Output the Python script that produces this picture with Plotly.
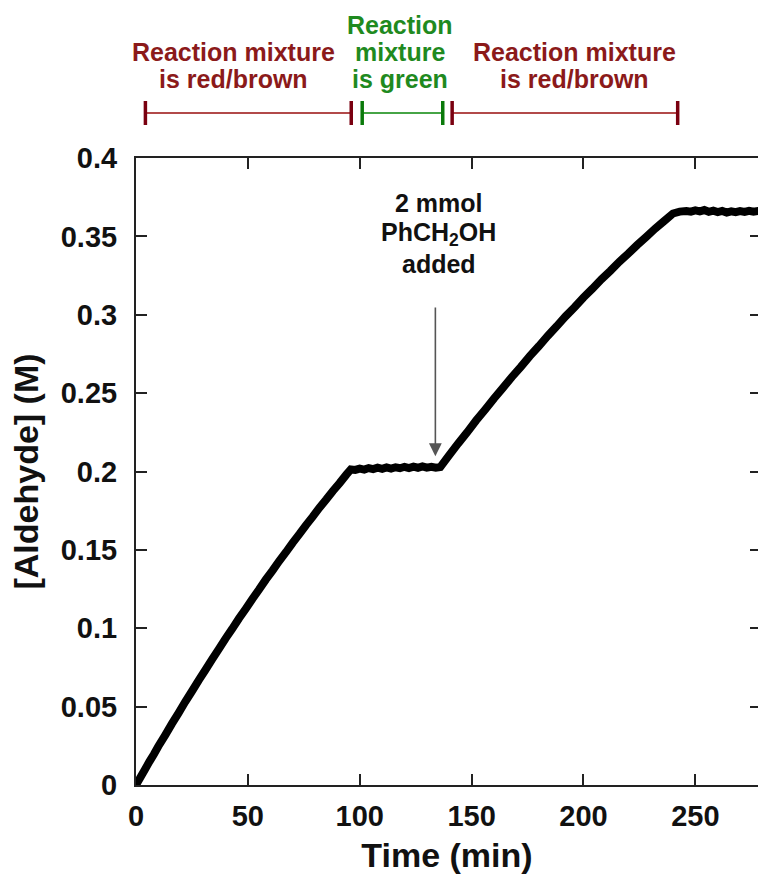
import plotly.graph_objects as go

# ---------------- data ----------------
time_min = [0, 2, 4, 6, 8, 10, 13, 16, 19, 22, 25, 28, 31, 34, 37, 40, 43, 46, 49, 52,
            55, 58, 61, 64, 67, 70, 73, 76, 79, 82, 85, 88, 91, 94, 96,
            98, 100, 102, 104, 106, 108, 110, 112, 114, 116, 118, 120, 122, 124, 126, 128, 130, 132, 134, 136,
            140, 144, 148, 152, 156, 160, 164, 168, 172, 176, 180, 184, 188, 192, 196, 200, 204, 208,
            212, 216, 220, 224, 228, 232, 236, 240, 243,
            246, 248, 250, 252, 254, 256, 258, 260, 262, 264, 266, 268, 270, 272, 274, 276, 278, 280]
aldehyde_M = [0.0, 0.0050, 0.0099, 0.0149, 0.0196, 0.0247, 0.0317, 0.0390, 0.0459, 0.0531, 0.0598, 0.0668,
              0.0734, 0.0802, 0.0867, 0.0934, 0.0996, 0.1062, 0.1123, 0.1187, 0.1247, 0.1310, 0.1368, 0.1429,
              0.1485, 0.1545, 0.1600, 0.1658, 0.1712, 0.1769, 0.1821, 0.1876, 0.1926, 0.1980, 0.2013,
              0.2010, 0.2018, 0.2012, 0.2022, 0.2015, 0.2024, 0.2017, 0.2026, 0.2019, 0.2027, 0.2021, 0.2030,
              0.2022, 0.2031, 0.2024, 0.2033, 0.2025, 0.2030, 0.2024, 0.2028,
              0.2104, 0.2179, 0.2250, 0.2325, 0.2394, 0.2466, 0.2533, 0.2603, 0.2668, 0.2736, 0.2799, 0.2865,
              0.2926, 0.2990, 0.3048, 0.3110, 0.3166, 0.3226, 0.3280, 0.3338, 0.3390, 0.3445, 0.3496, 0.3549,
              0.3597, 0.3646, 0.3658,
              0.3662, 0.3658, 0.3666, 0.3660, 0.3668, 0.3657, 0.3664, 0.3655, 0.3662, 0.3652, 0.3660, 0.3654,
              0.3661, 0.3656, 0.3663, 0.3657, 0.3662, 0.3660]

x_ticks = [0, 50, 100, 150, 200, 250]
y_ticks = [0, 0.05, 0.1, 0.15, 0.2, 0.25, 0.3, 0.35, 0.4]
y_tick_labels = ["0", "0.05", "0.1", "0.15", "0.2", "0.25", "0.3", "0.35", "0.4"]

# colour periods shown above the plot (minutes)
period_start = [4.2, 101.1, 141.3]
period_end = [96.2, 137.1, 242.1]
period_label_lines = [["Reaction mixture", "is red/brown"],
                      ["Reaction", "mixture", "is green"],
                      ["Reaction mixture", "is red/brown"]]
period_label_x = [43.5, 118.0, 195.8]

# addition event
addition_time = 133.8
addition_arrow_tip = 0.2098
addition_arrow_tail = 0.3056
addition_label_x = 135.2
addition_label_lines = ["2 mmol", "PhCH<sub>2</sub>OH", "added"]

# ---------------- style ----------------
FONT = "Liberation Sans, Arial, Helvetica, sans-serif"
AX = "#222222"
period_text_colors = ["#8b1a1a", "#1f8a1f", "#8b1a1a"]
period_tick_colors = ["#7a0010", "#0a7a0a", "#7a0010"]
period_line_colors = ["#b24a4a", "#46a446", "#b24a4a"]

W, H = 758, 874
ML, MR, MT, MB = 136, 0, 158, 89
plot_h = H - MT - MB


def paper_y(py):
    return (H - MB - py) / plot_h


fig = go.Figure()
fig.add_trace(go.Scatter(x=time_min, y=aldehyde_M, mode="lines",
                         line=dict(color="black", width=8, simplify=False), showlegend=False,
                         hoverinfo="skip"))
# helper trace for the right-hand mirrored ticks
fig.add_trace(go.Scatter(x=time_min[:1], y=aldehyde_M[:1], mode="markers", yaxis="y2",
                         marker=dict(opacity=0), showlegend=False, hoverinfo="skip"))

shapes = []
bar_y = paper_y(113)
tick_half = 12 / plot_h
for s, e, lc, tc in zip(period_start, period_end, period_line_colors, period_tick_colors):
    shapes.append(dict(type="line", xref="x", yref="paper", x0=s, x1=e, y0=bar_y, y1=bar_y,
                       line=dict(color=lc, width=2)))
    for xv in (s, e):
        shapes.append(dict(type="line", xref="x", yref="paper", x0=xv, x1=xv,
                           y0=bar_y - tick_half, y1=bar_y + tick_half,
                           line=dict(color=tc, width=3.5)))

annotations = []
line_py_bottom = 79
line_gap = 27
for lines, lx, col in zip(period_label_lines, period_label_x, period_text_colors):
    n = len(lines)
    for i, txt in enumerate(lines):
        py = line_py_bottom - (n - 1 - i) * line_gap
        annotations.append(dict(x=lx, xref="x", y=paper_y(py), yref="paper", text=txt,
                                showarrow=False, xanchor="center", yanchor="middle",
                                font=dict(family=FONT, size=25, color=col, weight="bold")))

add_py = [203, 234, 264]
for txt, py in zip(addition_label_lines, add_py):
    annotations.append(dict(x=addition_label_x, xref="x", y=paper_y(py), yref="paper", text=txt,
                            showarrow=False, xanchor="center", yanchor="middle",
                            font=dict(family=FONT, size=25, color="#111111", weight="bold")))

annotations.append(dict(x=addition_time, y=addition_arrow_tip, xref="x", yref="y",
                        ax=addition_time, ay=addition_arrow_tail, axref="x", ayref="y",
                        text="", showarrow=True, arrowhead=2, arrowsize=1.6,
                        arrowwidth=1.6, arrowcolor="#555555"))

fig.update_layout(
    width=W, height=H,
    margin=dict(l=ML, r=MR, t=MT, b=MB, pad=0),
    paper_bgcolor="white", plot_bgcolor="white",
    showlegend=False,
    shapes=shapes, annotations=annotations,
    xaxis=dict(range=[0, 278], tickvals=x_ticks, ticks="inside", ticklen=11, tickwidth=2,
               tickcolor=AX, showline=True, linecolor=AX, linewidth=2, mirror="ticks",
               showgrid=False, zeroline=False, ticklabelstandoff=4,
               tickfont=dict(family=FONT, size=29, color="#111111", weight="bold"),
               title=dict(text="Time (min)", standoff=12,
                          font=dict(family=FONT, size=34, color="#111111", weight="bold"))),
    yaxis=dict(range=[0, 0.4], tickvals=y_ticks, ticktext=y_tick_labels, ticks="inside",
               ticklen=11, tickwidth=2, tickcolor=AX, showline=True, linecolor=AX, linewidth=2,
               mirror=False, showgrid=False, zeroline=False, ticklabelstandoff=11,
               tickfont=dict(family=FONT, size=29, color="#111111", weight="bold"),
               title=dict(text="[Aldehyde] (M)", standoff=12,
                          font=dict(family=FONT, size=34, color="#111111", weight="bold"))),
    yaxis2=dict(overlaying="y", side="right", range=[0, 0.4], tickvals=y_ticks, ticks="inside",
                ticklen=8, tickwidth=2, tickcolor=AX, showline=False, showgrid=False,
                zeroline=False, showticklabels=False),
)

fig.write_html("out.html", config={"displayModeBar": False},
               post_script="document.body.style.margin='0px';")
